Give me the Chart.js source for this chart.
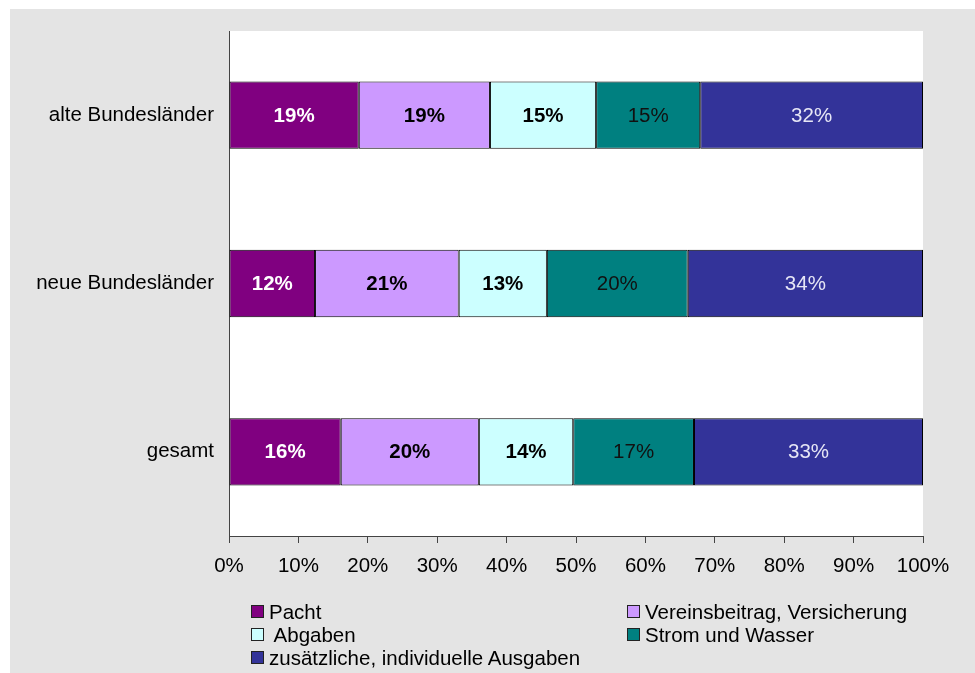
<!DOCTYPE html>
<html>
<head>
<meta charset="utf-8">
<script src="https://cdn.jsdelivr.net/npm/chart.js@4"></script>
<style>
  body { margin: 0; background: #fff; }
  #wrap { position: absolute; left: 10px; top: 9px; width: 965px; height: 664px; background: #e4e4e4; }
  #legend { position: absolute; left: 241px; top: 591px; display: grid; grid-template-columns: 376px 330px;
            font-family: "Liberation Sans", Arial, sans-serif; font-size: 20.5px; color: #000; }
  .item { display: flex; align-items: center; height: 23px; white-space: pre; }
  .box { width: 11px; height: 11px; border: 1px solid #222; margin-right: 5px; }
</style>
</head>
<body>
<div id="wrap">
  <canvas id="chart" width="965" height="664"></canvas>
  <div id="legend"></div>
</div>
<script>
// Kategorien (von oben nach unten)
const categories = ['alte Bundesländer', 'neue Bundesländer', 'gesamt'];

// Anteile in % je Kostenart
const seriesNames = ['Pacht', 'Vereinsbeitrag, Versicherung', ' Abgaben', 'Strom und Wasser', 'zusätzliche, individuelle Ausgaben'];
const pacht = [18.7, 12.4, 16.1];
const vereinsbeitrag = [18.9, 20.7, 19.9];
const abgaben = [15.3, 12.7, 13.6];
const strom = [15.0, 20.3, 17.4];
const zusaetzlich = [32.1, 33.9, 33.0];

const tickLabels = ['0%', '10%', '20%', '30%', '40%', '50%', '60%', '70%', '80%', '90%', '100%'];

const colors = ['#800080', '#cc99ff', '#ccffff', '#008080', '#333399'];
const labelColors = ['#ffffff', '#000000', '#000000', '#111111', '#e6e6f5'];
const labelWeights = ['bold', 'bold', 'bold', 'normal', 'normal'];
const values = [pacht, vereinsbeitrag, abgaben, strom, zusaetzlich];

const FONT = '"Liberation Sans", Arial, sans-serif';
const SIZE = 20.5;

const datasets = seriesNames.map(function(name, i) {
    return {
        label: name,
        data: values[i],
        backgroundColor: colors[i],
        borderColor: '#000',
        borderWidth: 1,
        borderSkipped: false,
        categoryPercentage: 1,
        barPercentage: 0.4
    };
});

// weißer Plotbereich
const plotBg = {
    id: 'plotBg',
    beforeDraw: function(chart) {
        const a = chart.chartArea;
        const ctx = chart.ctx;
        ctx.save();
        ctx.fillStyle = '#fff';
        ctx.fillRect(a.left, a.top, a.right - a.left, a.bottom - a.top);
        ctx.restore();
    }
};

// Beschriftung in den Balken
const barLabels = {
    id: 'barLabels',
    afterDatasetsDraw: function(chart) {
        const ctx = chart.ctx;
        ctx.save();
        ctx.textAlign = 'center';
        ctx.textBaseline = 'middle';
        chart.data.datasets.forEach(function(ds, i) {
            chart.getDatasetMeta(i).data.forEach(function(bar, j) {
                ctx.fillStyle = labelColors[i];
                ctx.font = labelWeights[i] + ' ' + SIZE + 'px ' + FONT;
                const x = (bar.x + bar.base) / 2;
                ctx.fillText(Math.round(ds.data[j]) + '%', x, bar.y + 1);
            });
        });
        ctx.restore();
    }
};

new Chart(document.getElementById('chart').getContext('2d'), {
    type: 'bar',
    data: { labels: categories, datasets: datasets },
    options: {
        indexAxis: 'y',
        responsive: false,
        animation: false,
        layout: { padding: { left: 0, right: 52, top: 22, bottom: 0 } },
        plugins: { legend: { display: false }, tooltip: { enabled: false } },
        scales: {
            x: {
                stacked: true,
                min: 0,
                max: 100,
                afterFit: function(scale) { scale.height = 137; },
                grid: { drawOnChartArea: false, drawTicks: true, tickLength: 7, color: '#444' },
                border: { color: '#444', width: 1 },
                ticks: {
                    stepSize: 10,
                    padding: 11,
                    color: '#000',
                    font: { family: FONT, size: SIZE },
                    callback: function(v, idx) { return tickLabels[idx]; }
                }
            },
            y: {
                stacked: true,
                afterFit: function(scale) { scale.width = 219; },
                grid: { display: false, drawTicks: false },
                border: { color: '#444', width: 1 },
                ticks: { padding: 15, color: '#000', font: { family: FONT, size: SIZE, lineHeight: 0.5 } }
            }
        }
    },
    plugins: [plotBg, barLabels]
});

// Legende (zwei Spalten)
const legend = document.getElementById('legend');
seriesNames.forEach(function(name, i) {
    const item = document.createElement('div');
    item.className = 'item';
    const box = document.createElement('span');
    box.className = 'box';
    box.style.background = colors[i];
    item.appendChild(box);
    item.appendChild(document.createTextNode(name));
    legend.appendChild(item);
});
</script>
</body>
</html>
